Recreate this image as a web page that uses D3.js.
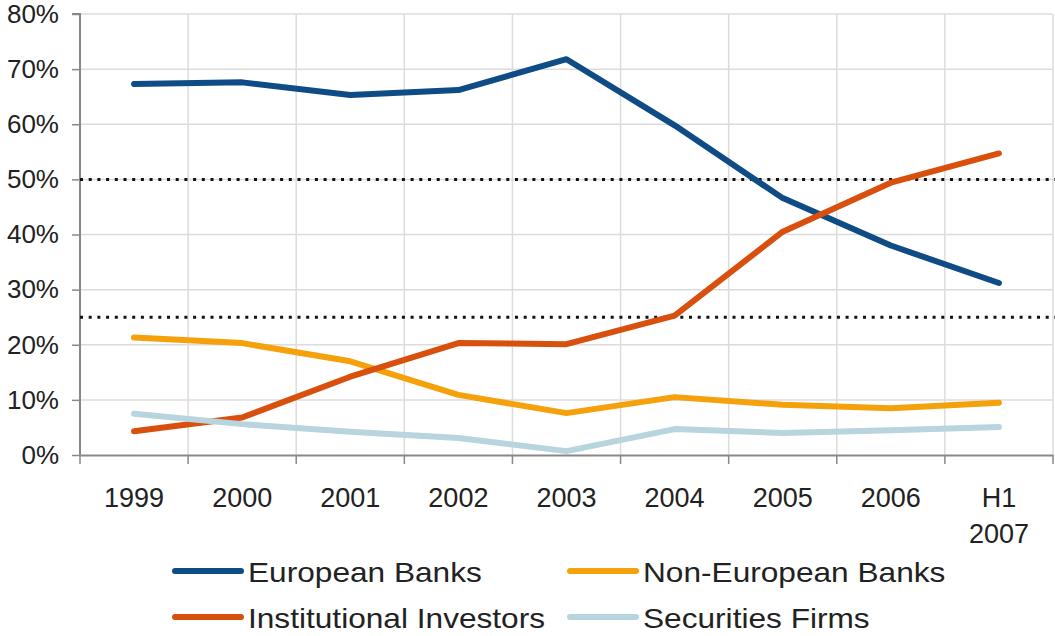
<!DOCTYPE html>
<html lang="en">
<head>
    <meta charset="UTF-8">
    <title>Holders share by year</title>
    <script src="https://d3js.org/d3.v7.min.js"></script>
    <style>
        body { margin: 0; background: #fff; font-family: "Liberation Sans", Arial, sans-serif; }
        .tick text { fill: #222; }
        .grid line { stroke: #dcdcdc; stroke-width: 1.5px; }
    </style>
</head>
<body>
    <svg id="chart"></svg>
    <script>
        const years = ["1999", "2000", "2001", "2002", "2003", "2004", "2005", "2006", "H1 2007"];
        const europeanBanks = [67.3, 67.6, 65.3, 66.2, 71.8, 59.8, 46.6, 38.0, 31.2];
        const nonEuropeanBanks = [21.3, 20.3, 17.0, 10.9, 7.6, 10.5, 9.1, 8.5, 9.5];
        const institutionalInvestors = [4.3, 6.8, 14.2, 20.3, 20.1, 25.3, 40.5, 49.4, 54.7];
        const securitiesFirms = [7.5, 5.6, 4.2, 3.1, 0.7, 4.7, 4.0, 4.5, 5.1];
        const yTicks = [0, 10, 20, 30, 40, 50, 60, 70, 80];
        const refLines = [25, 50];

        const series = [
            { name: "European Banks", values: europeanBanks, color: "#0f4c86" },
            { name: "Non-European Banks", values: nonEuropeanBanks, color: "#f4a10c" },
            { name: "Institutional Investors", values: institutionalInvestors, color: "#d9500e" },
            { name: "Securities Firms", values: securitiesFirms, color: "#b7d4df" }
        ];

        const width = 1055, height = 636;
        const margin = { top: 14, right: 2, bottom: 181, left: 80 };
        const innerW = width - margin.left - margin.right;
        const innerH = height - margin.top - margin.bottom;

        const svg = d3.select("#chart").attr("width", width).attr("height", height);
        const g = svg.append("g").attr("transform", `translate(${margin.left},${margin.top})`);

        const x = d3.scaleBand().domain(years).range([0, innerW]);
        const y = d3.scaleLinear().domain([0, 80]).range([innerH, 0]);

        // grid
        g.append("g").attr("class", "grid")
            .selectAll("line").data(yTicks.slice(1)).join("line")
            .attr("x1", 0).attr("x2", innerW)
            .attr("y1", d => y(d)).attr("y2", d => y(d));
        g.append("g").attr("class", "grid")
            .selectAll("line").data(d3.range(1, years.length + 1)).join("line")
            .attr("x1", i => x.step() * i).attr("x2", i => x.step() * i)
            .attr("y1", 0).attr("y2", innerH);

        // axes
        const yAxis = g.append("g")
            .call(d3.axisLeft(y).tickValues(yTicks).tickFormat(d => d + "%").tickSize(8).tickPadding(13));
        yAxis.selectAll("text").attr("font-size", "26px").attr("font-family", "Liberation Sans, Arial, sans-serif");

        const xAxis = g.append("g").attr("transform", `translate(0,${innerH})`)
            .call(d3.axisBottom(x).tickSize(0).tickFormat(""));
        xAxis.selectAll(".tick").remove();
        xAxis.selectAll("line.b").data(d3.range(years.length + 1)).join("line")
            .attr("x1", i => x.step() * i).attr("x2", i => x.step() * i)
            .attr("y1", 0).attr("y2", 9).attr("stroke", "#888").attr("stroke-width", 1.5);

        g.selectAll(".domain").attr("stroke", "#888").attr("stroke-width", 2);
        yAxis.selectAll(".tick line").attr("stroke", "#888").attr("stroke-width", 1.5);
        yAxis.select(".domain").attr("d", `M-8,0H0V${innerH}`);

        const labels = g.append("g").attr("font-size", "27px").attr("fill", "#222").attr("text-anchor", "middle");
        years.forEach(yr => {
            const cx = x(yr) + x.bandwidth() / 2;
            yr.split(" ").forEach((p, i) => {
                labels.append("text").attr("x", cx).attr("y", innerH + 52 + i * 36).text(p);
            });
        });

        // reference lines
        g.selectAll("line.ref").data(refLines).join("line")
            .attr("x1", 0).attr("x2", innerW + 2)
            .attr("y1", d => y(d)).attr("y2", d => y(d))
            .attr("stroke", "#111").attr("stroke-width", 3).attr("stroke-dasharray", "3,5.7");

        // lines
        const line = d3.line()
            .x((d, i) => x(years[i]) + x.bandwidth() / 2)
            .y(d => y(d));

        g.selectAll("path.series").data(series).join("path")
            .attr("fill", "none")
            .attr("stroke", d => d.color)
            .attr("stroke-width", 6)
            .attr("stroke-linejoin", "round")
            .attr("stroke-linecap", "round")
            .attr("d", d => line(d.values));

        // legend
        const legend = svg.append("g").attr("font-size", "28px").attr("fill", "#222");
        series.forEach((s, i) => {
            const lx = 175 + (i % 2) * 395;
            const ly = 571 + Math.floor(i / 2) * 46;
            legend.append("line").attr("x1", lx).attr("x2", lx + 66).attr("y1", ly).attr("y2", ly)
                .attr("stroke", s.color).attr("stroke-width", 6).attr("stroke-linecap", "round");
            legend.append("text")
                .attr("transform", `translate(${lx + 73},${ly + 11}) scale(1.13,1)`)
                .text(s.name);
        });
    </script>
</body>
</html>
